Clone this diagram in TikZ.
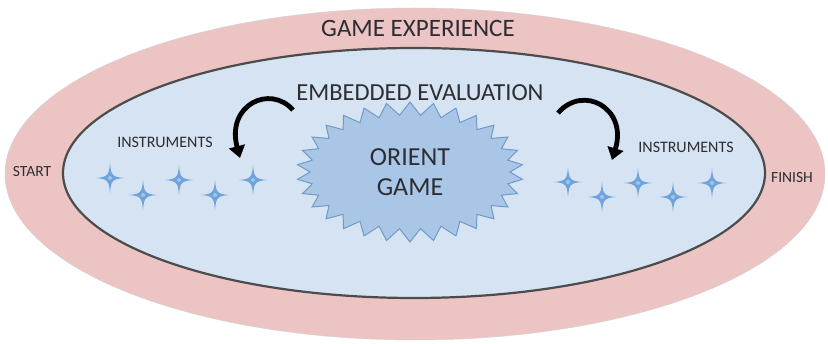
\documentclass[tikz,border=0pt]{standalone}
\usepackage{fontspec}
\setmainfont{Carlito}
\usetikzlibrary{shapes.geometric,shapes.symbols,arrows.meta}
\definecolor{expfill}{RGB}{236,196,196}
\definecolor{evalfill}{RGB}{214,227,242}
\definecolor{gamefill}{RGB}{169,198,230}
\definecolor{gameedge}{RGB}{111,155,201}
\definecolor{starblue}{RGB}{111,163,220}
\definecolor{txt}{RGB}{45,45,50}
\newcommand{\istar}[1]{%
  \fill[starblue] (#1) ++(0,-15) .. controls +(1,12) and +(-12,-1) .. ++(14,15)
    .. controls +(-12,1) and +(1,-12) .. ++(-14,15)
    .. controls +(-1,-12) and +(12,1) .. ++(-14,-15)
    .. controls +(12,-1) and +(-1,12) .. cycle;
  \fill[white,opacity=.35] (#1) circle (2pt);}
\tikzset{
  region/.style={ellipse, inner sep=0pt},
  lbl/.style={text=txt, font=\fontsize{#1}{#1}\selectfont},
  loop/.style={line width=4.8pt, -{Triangle[width=16pt,length=12pt]}}
}
\begin{document}
\begin{tikzpicture}[x=1pt,y=-1pt]
\useasboundingbox[fill=white] (0,0) rectangle (828,344);
\node[region, fill=expfill, draw=gray!35, minimum width=820pt, minimum height=332pt] (exp) at (415,174) {};
\node[region, fill=evalfill, draw=black!70, line width=2.2pt, minimum width=702pt, minimum height=250pt] (eval) at (414,173) {};
\node[starburst, starburst points=30, starburst point height=13pt, random starburst=0,
  fill=gamefill, draw=gameedge, line width=1pt, minimum width=226pt, minimum height=140pt,
  align=center, lbl=26] (game) at (410,172) {ORIENT\\[4pt]GAME};
\node[lbl=25] (gexp) at (418,28) {GAME EXPERIENCE};
\node[lbl=24.5] (ee) at (420,93) {EMBEDDED EVALUATION};
\node[lbl=16] (linst) at (165,142) {INSTRUMENTS};
\node[lbl=16] (rinst) at (686,147) {INSTRUMENTS};
\node[lbl=15.5] (start) at (32,172) {START};
\node[lbl=15.5] (finish) at (792,178) {FINISH};
\coordinate (la) at (293,110);
\coordinate (lb) at (240,158);
\coordinate (ra) at (558,113);
\coordinate (rb) at (612,160);
\draw[loop] (la) .. controls (270,84) and (226,105) .. (lb);
\draw[loop] (ra) .. controls (583,84) and (628,108) .. (rb);
\foreach \x/\y in {110/178,143/195,179/180,215/195,253/180,
  568/182,602/197,638/183,673/197,712/183}
  {\istar{\x,\y}}
\end{tikzpicture}
\end{document}
